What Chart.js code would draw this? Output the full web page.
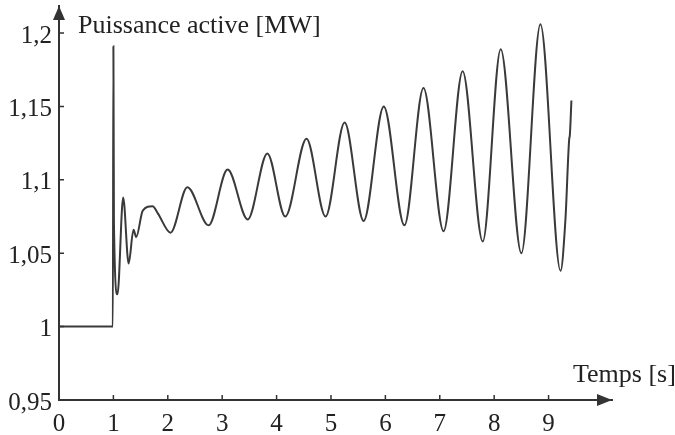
<!DOCTYPE html>
<html>
<head>
<meta charset="utf-8">
<script src="https://cdn.jsdelivr.net/npm/chart.js@4"></script>
<style>
  body { margin: 0; background: #fff; }
  #wrap { width: 675px; height: 435px; }
</style>
</head>
<body>
<div id="wrap"><canvas id="powerChart"></canvas></div>
<script>
// temps [s] et puissance active [MW]
const times = [0, 0.99, 1.0, 1.01, 1.075, 1.18, 1.28, 1.37, 1.42, 1.54, 1.72, 1.82, 2.05, 2.36, 2.75, 3.10, 3.47, 3.83, 4.16, 4.55, 4.90, 5.25, 5.60, 5.97, 6.35, 6.70, 7.07, 7.42, 7.79, 8.12, 8.50, 8.85, 9.22, 9.31, 9.38, 9.39, 9.42];
const power = [1.0, 1.0, 1.191, 1.07, 1.022, 1.088, 1.043, 1.066, 1.061, 1.079, 1.082, 1.077, 1.064, 1.095, 1.069, 1.107, 1.073, 1.118, 1.075, 1.128, 1.075, 1.139, 1.072, 1.150, 1.069, 1.1625, 1.065, 1.174, 1.058, 1.189, 1.050, 1.206, 1.038, 1.073, 1.128, 1.13, 1.154];

const xTicks = [0, 1, 2, 3, 4, 5, 6, 7, 8, 9];
const yTicks = [0.95, 1, 1.05, 1.1, 1.15, 1.2];

const yTitle = "Puissance active [MW]";
const xTitle = "Temps [s]";

const ink = "#333";
const fontFamily = "'Liberation Serif', 'Times New Roman', serif";

const axesPlugin = {
    id: "axesArrows",
    afterDraw(chart) {
        const { ctx, chartArea, scales } = chart;
        const x = scales.x, y = scales.y;
        const left = chartArea.left, bottom = chartArea.bottom;
        ctx.save();
        ctx.strokeStyle = ink;
        ctx.fillStyle = ink;
        ctx.lineWidth = 1.5;

        // petits traits de graduation vers l'interieur
        ctx.beginPath();
        yTicks.forEach(v => {
            const py = y.getPixelForValue(v);
            ctx.moveTo(left, py);
            ctx.lineTo(left + 5, py);
        });
        xTicks.forEach(v => {
            const px = x.getPixelForValue(v);
            ctx.moveTo(px, bottom);
            ctx.lineTo(px, bottom - 5);
        });
        ctx.stroke();

        // fleches
        ctx.beginPath();
        ctx.moveTo(left, chartArea.top);
        ctx.lineTo(left - 6, chartArea.top + 14);
        ctx.lineTo(left + 6, chartArea.top + 14);
        ctx.closePath();
        ctx.fill();

        ctx.beginPath();
        ctx.moveTo(chartArea.right, bottom);
        ctx.lineTo(chartArea.right - 15, bottom - 6);
        ctx.lineTo(chartArea.right - 15, bottom + 6);
        ctx.closePath();
        ctx.fill();

        // titres des axes
        ctx.fillStyle = "#222";
        ctx.font = "26px " + fontFamily;
        ctx.textBaseline = "alphabetic";
        ctx.textAlign = "left";
        ctx.fillText(yTitle, 78, 33);
        ctx.fillText(xTitle, 573, 382);
        ctx.restore();
    }
};

const ctx = document.getElementById("powerChart").getContext("2d");

new Chart(ctx, {
    type: "line",
    data: {
        datasets: [{
            data: times.map((t, i) => ({ x: t, y: power[i] })),
            borderColor: "#3a3a3a",
            borderWidth: 2,
            pointRadius: 0,
            cubicInterpolationMode: "monotone",
            fill: false
        }]
    },
    options: {
        responsive: true,
        maintainAspectRatio: false,
        animation: false,
        layout: { padding: { top: 6, right: 63, left: 0, bottom: 0 } },
        plugins: {
            legend: { display: false },
            tooltip: { enabled: false }
        },
        scales: {
            x: {
                type: "linear",
                min: 0,
                max: 10.166,
                afterBuildTicks: s => { s.ticks = xTicks.map(v => ({ value: v })); },
                afterFit: s => { s.height = 35; s.paddingLeft = 0; s.paddingRight = 0; },
                ticks: {
                    color: "#222",
                    padding: 9,
                    font: { family: fontFamily, size: 25 },
                    callback: v => String(v)
                },
                grid: { display: false, drawTicks: false },
                border: { color: ink, width: 2 }
            },
            y: {
                type: "linear",
                min: 0.95,
                max: 1.2184,
                afterBuildTicks: s => { s.ticks = yTicks.map(v => ({ value: v })); },
                afterFit: s => { s.width = 59; s.paddingTop = 0; s.paddingBottom = 0; },
                ticks: {
                    color: "#222",
                    padding: 7,
                    labelOffset: 3,
                    font: { family: fontFamily, size: 25 },
                    callback: v => String(v).replace(".", ",")
                },
                grid: { display: false, drawTicks: false },
                border: { color: ink, width: 2 }
            }
        }
    },
    plugins: [axesPlugin]
});
</script>
</body>
</html>
